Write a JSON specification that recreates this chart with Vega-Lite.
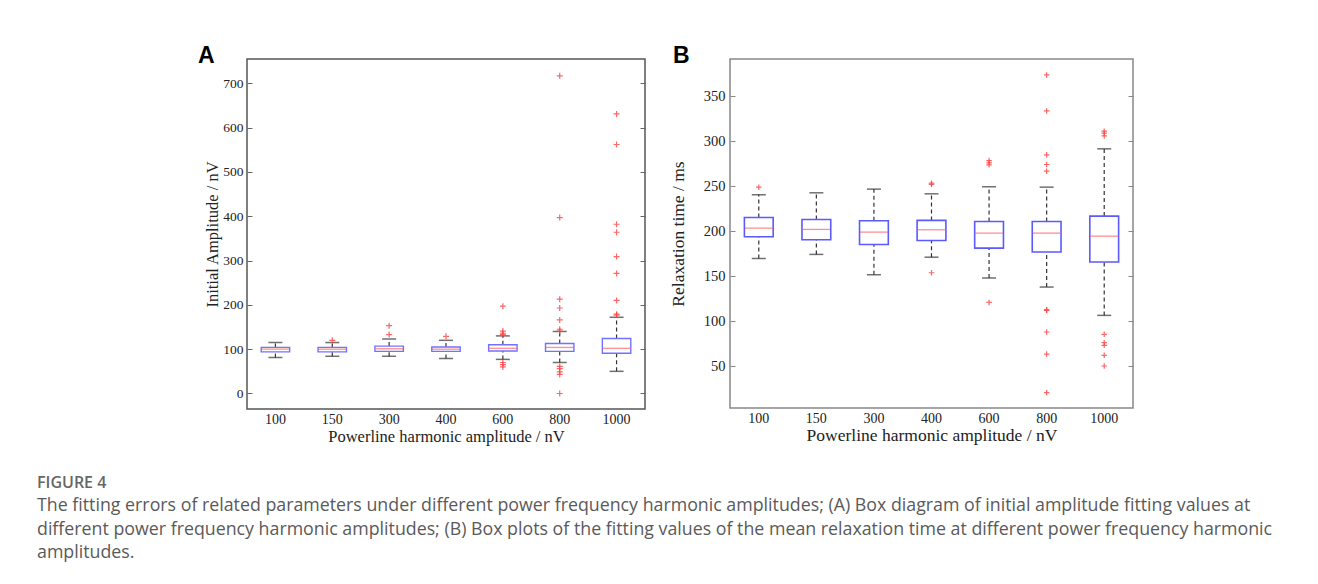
{
  "$schema": "https://vega.github.io/schema/vega-lite/v6.json",
  "background": "white",
  "padding": {"left": 37, "top": 44, "right": 5, "bottom": 5},
  "spacing": 21,
  "datasets": {
    "statsA": [
      {"amp": "100", "lo": 81, "q1": 94, "med": 100, "q3": 104, "hi": 115},
      {"amp": "150", "lo": 84, "q1": 94, "med": 100, "q3": 104, "hi": 115},
      {"amp": "300", "lo": 84, "q1": 95, "med": 101, "q3": 107, "hi": 123},
      {"amp": "400", "lo": 79, "q1": 95, "med": 100, "q3": 105, "hi": 120},
      {"amp": "600", "lo": 77, "q1": 96, "med": 102, "q3": 110, "hi": 130},
      {"amp": "800", "lo": 70, "q1": 95, "med": 104, "q3": 113, "hi": 140},
      {"amp": "1000", "lo": 50, "q1": 91, "med": 102, "q3": 124, "hi": 172}
    ],
    "outA": [
      {"amp": "150", "value": 120},
      {"amp": "300", "value": 153},
      {"amp": "300", "value": 133},
      {"amp": "400", "value": 129},
      {"amp": "600", "value": 197},
      {"amp": "600", "value": 141},
      {"amp": "600", "value": 136},
      {"amp": "600", "value": 133},
      {"amp": "600", "value": 70},
      {"amp": "600", "value": 65},
      {"amp": "600", "value": 60},
      {"amp": "800", "value": 717},
      {"amp": "800", "value": 397},
      {"amp": "800", "value": 213},
      {"amp": "800", "value": 193},
      {"amp": "800", "value": 166},
      {"amp": "800", "value": 145},
      {"amp": "800", "value": 141},
      {"amp": "800", "value": 61},
      {"amp": "800", "value": 56},
      {"amp": "800", "value": 49},
      {"amp": "800", "value": 43},
      {"amp": "800", "value": 0},
      {"amp": "1000", "value": 631},
      {"amp": "1000", "value": 562},
      {"amp": "1000", "value": 382},
      {"amp": "1000", "value": 364},
      {"amp": "1000", "value": 309},
      {"amp": "1000", "value": 271},
      {"amp": "1000", "value": 210},
      {"amp": "1000", "value": 179},
      {"amp": "1000", "value": 177}
    ],
    "statsB": [
      {"amp": "100", "lo": 169.6, "q1": 193.7, "med": 203.3, "q3": 215.2, "hi": 240.4},
      {"amp": "150", "lo": 174.1, "q1": 190.4, "med": 201.9, "q3": 213, "hi": 242.6},
      {"amp": "300", "lo": 151.5, "q1": 185.2, "med": 198.9, "q3": 211.5, "hi": 246.7},
      {"amp": "400", "lo": 171, "q1": 189.6, "med": 201.5, "q3": 211.9, "hi": 241.5},
      {"amp": "600", "lo": 147.8, "q1": 181.1, "med": 197.8, "q3": 210.7, "hi": 249.3},
      {"amp": "800", "lo": 137.8, "q1": 176.7, "med": 197.8, "q3": 210.7, "hi": 248.9},
      {"amp": "1000", "lo": 106.3, "q1": 165.6, "med": 194.4, "q3": 216.7, "hi": 291.5}
    ],
    "outB": [
      {"amp": "100", "value": 248.9},
      {"amp": "400", "value": 253.3},
      {"amp": "400", "value": 251.9},
      {"amp": "400", "value": 153.7},
      {"amp": "600", "value": 278.5},
      {"amp": "600", "value": 275.9},
      {"amp": "600", "value": 273.7},
      {"amp": "600", "value": 120.7},
      {"amp": "800", "value": 373.7},
      {"amp": "800", "value": 333.7},
      {"amp": "800", "value": 284.8},
      {"amp": "800", "value": 274.1},
      {"amp": "800", "value": 266.7},
      {"amp": "800", "value": 112.6},
      {"amp": "800", "value": 111.9},
      {"amp": "800", "value": 87.8},
      {"amp": "800", "value": 63.3},
      {"amp": "800", "value": 20.4},
      {"amp": "1000", "value": 311.1},
      {"amp": "1000", "value": 308.9},
      {"amp": "1000", "value": 305.9},
      {"amp": "1000", "value": 85.2},
      {"amp": "1000", "value": 75.9},
      {"amp": "1000", "value": 73},
      {"amp": "1000", "value": 61.9},
      {"amp": "1000", "value": 50}
    ]
  },
  "title": {
    "text": "FIGURE 4",
    "subtitle": [
      "The fitting errors of related parameters under different power frequency harmonic amplitudes; (A) Box diagram of initial amplitude fitting values at",
      "different power frequency harmonic amplitudes; (B) Box plots of the fitting values of the mean relaxation time at different power frequency harmonic",
      "amplitudes."
    ],
    "orient": "bottom",
    "anchor": "start",
    "frame": "group",
    "offset": 30,
    "dx": -210,
    "font": "Open Sans",
    "fontSize": 16,
    "fontWeight": 600,
    "color": "#666666",
    "subtitleFont": "Open Sans",
    "subtitleFontSize": 17.8,
    "subtitleColor": "#5a5a5a",
    "subtitleLineHeight": 23.5,
    "subtitlePadding": 6
  },
  "config": {
    "view": {"stroke": "#555555", "strokeWidth": 1.5},
    "axis": {
      "labelFont": "Liberation Serif",
      "titleFont": "Liberation Serif",
      "labelColor": "#222222",
      "titleColor": "#222222",
      "titleFontWeight": "normal",
      "grid": false,
      "domain": false
    }
  },
  "hconcat": [
    {
      "width": 398,
      "height": 350,
      "title": {"text": "A", "anchor": "start", "frame": "group", "dx": -49, "offset": -9, "font": "Liberation Sans", "fontSize": 23, "fontWeight": "bold", "color": "#000000"},
      "resolve": {"axis": {"y": "independent"}},
      "layer": [
        {
          "data": {"name": "statsA"},
          "mark": {"type": "rule", "color": "#333333", "strokeDash": [4, 3], "strokeWidth": 1.2},
          "encoding": {
            "x": {"field": "amp", "type": "ordinal", "sort": ["100", "150", "300", "400", "600", "800", "1000"], "scale": {"paddingInner": 0, "paddingOuter": 0}, "axis": {"title": "Powerline harmonic amplitude / nV", "labelAngle": 0, "ticks": false, "labelFontSize": 14, "labelPadding": 3, "titleFontSize": 16.5, "titlePadding": 2}},
            "y": {"field": "q3", "type": "quantitative", "scale": {"domain": [-35, 755], "nice": false, "zero": false}, "axis": {"title": "Initial Amplitude / nV", "values": [0, 100, 200, 300, 400, 500, 600, 700], "tickSize": -5, "tickColor": "#666666", "labelPadding": 9, "labelFontSize": 13.5, "titleFontSize": 16.5, "titlePadding": 2}},
            "y2": {"field": "hi"}
          }
        },
        {
          "data": {"name": "statsA"},
          "mark": {"type": "rule", "color": "#333333", "strokeDash": [4, 3], "strokeWidth": 1.2},
          "encoding": {
            "x": {"field": "amp", "type": "ordinal", "sort": ["100", "150", "300", "400", "600", "800", "1000"]},
            "y": {"field": "lo", "type": "quantitative", "axis": null},
            "y2": {"field": "q1"}
          }
        },
        {
          "data": {"name": "statsA"},
          "mark": {"type": "tick", "color": "#333333", "size": 14, "thickness": 1.5, "orient": "horizontal"},
          "encoding": {
            "x": {"field": "amp", "type": "ordinal", "sort": ["100", "150", "300", "400", "600", "800", "1000"]},
            "y": {"field": "hi", "type": "quantitative", "axis": null}
          }
        },
        {
          "data": {"name": "statsA"},
          "mark": {"type": "tick", "color": "#333333", "size": 14, "thickness": 1.5, "orient": "horizontal"},
          "encoding": {
            "x": {"field": "amp", "type": "ordinal", "sort": ["100", "150", "300", "400", "600", "800", "1000"]},
            "y": {"field": "lo", "type": "quantitative", "axis": null}
          }
        },
        {
          "data": {"name": "statsA"},
          "mark": {"type": "bar", "width": {"band": 0.5}, "fill": "white", "stroke": "#7272ff", "strokeWidth": 1.4},
          "encoding": {
            "x": {"field": "amp", "type": "ordinal", "sort": ["100", "150", "300", "400", "600", "800", "1000"]},
            "y": {"field": "q1", "type": "quantitative", "axis": null},
            "y2": {"field": "q3"}
          }
        },
        {
          "data": {"name": "statsA"},
          "mark": {"type": "tick", "color": "#ff6060", "size": 28, "thickness": 1.3, "orient": "horizontal"},
          "encoding": {
            "x": {"field": "amp", "type": "ordinal", "sort": ["100", "150", "300", "400", "600", "800", "1000"]},
            "y": {"field": "med", "type": "quantitative", "axis": null}
          }
        },
        {
          "data": {"name": "outA"},
          "mark": {"type": "point", "shape": "M-1,0L1,0M0,-1L0,1", "filled": false, "stroke": "#ff4040", "strokeWidth": 1.2, "size": 36, "opacity": 0.8},
          "encoding": {
            "x": {"field": "amp", "type": "ordinal", "sort": ["100", "150", "300", "400", "600", "800", "1000"]},
            "y": {"field": "value", "type": "quantitative", "axis": {"orient": "right", "title": null, "labels": false, "values": [0, 100, 200, 300, 400, 500, 600, 700], "tickSize": -5, "tickColor": "#666666"}}
          }
        }
      ]
    },
    {
      "width": 403,
      "height": 349,
      "view": {"stroke": "#888888", "strokeWidth": 1.5},
      "title": {"text": "B", "anchor": "start", "frame": "group", "dx": -57, "offset": -9, "font": "Liberation Sans", "fontSize": 23, "fontWeight": "bold", "color": "#000000"},
      "resolve": {"axis": {"y": "independent"}},
      "layer": [
        {
          "data": {"name": "statsB"},
          "mark": {"type": "rule", "color": "#333333", "strokeDash": [4, 3], "strokeWidth": 1.2},
          "encoding": {
            "x": {"field": "amp", "type": "ordinal", "sort": ["100", "150", "300", "400", "600", "800", "1000"], "scale": {"paddingInner": 0, "paddingOuter": 0}, "axis": {"title": "Powerline harmonic amplitude / nV", "labelAngle": 0, "ticks": false, "labelFontSize": 14, "labelPadding": 3, "titleFontSize": 17.5, "titlePadding": 1}},
            "y": {"field": "q3", "type": "quantitative", "scale": {"domain": [3.3, 391.4], "nice": false, "zero": false}, "axis": {"title": "Relaxation time / ms", "values": [50, 100, 150, 200, 250, 300, 350], "tickSize": -5, "tickColor": "#888888", "labelPadding": 10, "labelFontSize": 14.5, "titleFontSize": 17.5, "titlePadding": 16}},
            "y2": {"field": "hi"}
          }
        },
        {
          "data": {"name": "statsB"},
          "mark": {"type": "rule", "color": "#333333", "strokeDash": [4, 3], "strokeWidth": 1.2},
          "encoding": {
            "x": {"field": "amp", "type": "ordinal", "sort": ["100", "150", "300", "400", "600", "800", "1000"]},
            "y": {"field": "lo", "type": "quantitative", "axis": null},
            "y2": {"field": "q1"}
          }
        },
        {
          "data": {"name": "statsB"},
          "mark": {"type": "tick", "color": "#333333", "size": 14, "thickness": 1.5, "orient": "horizontal"},
          "encoding": {
            "x": {"field": "amp", "type": "ordinal", "sort": ["100", "150", "300", "400", "600", "800", "1000"]},
            "y": {"field": "hi", "type": "quantitative", "axis": null}
          }
        },
        {
          "data": {"name": "statsB"},
          "mark": {"type": "tick", "color": "#333333", "size": 14, "thickness": 1.5, "orient": "horizontal"},
          "encoding": {
            "x": {"field": "amp", "type": "ordinal", "sort": ["100", "150", "300", "400", "600", "800", "1000"]},
            "y": {"field": "lo", "type": "quantitative", "axis": null}
          }
        },
        {
          "data": {"name": "statsB"},
          "mark": {"type": "bar", "width": {"band": 0.5}, "fill": "white", "stroke": "#5a5aff", "strokeWidth": 1.6},
          "encoding": {
            "x": {"field": "amp", "type": "ordinal", "sort": ["100", "150", "300", "400", "600", "800", "1000"]},
            "y": {"field": "q1", "type": "quantitative", "axis": null},
            "y2": {"field": "q3"}
          }
        },
        {
          "data": {"name": "statsB"},
          "mark": {"type": "tick", "color": "#ff6060", "size": 28, "thickness": 1.3, "orient": "horizontal"},
          "encoding": {
            "x": {"field": "amp", "type": "ordinal", "sort": ["100", "150", "300", "400", "600", "800", "1000"]},
            "y": {"field": "med", "type": "quantitative", "axis": null}
          }
        },
        {
          "data": {"name": "outB"},
          "mark": {"type": "point", "shape": "M-1,0L1,0M0,-1L0,1", "filled": false, "stroke": "#ff4040", "strokeWidth": 1.2, "size": 30, "opacity": 0.8},
          "encoding": {
            "x": {"field": "amp", "type": "ordinal", "sort": ["100", "150", "300", "400", "600", "800", "1000"]},
            "y": {"field": "value", "type": "quantitative", "axis": {"orient": "right", "title": null, "labels": false, "values": [50, 100, 150, 200, 250, 300, 350], "tickSize": -5, "tickColor": "#888888"}}
          }
        }
      ]
    }
  ]
}
